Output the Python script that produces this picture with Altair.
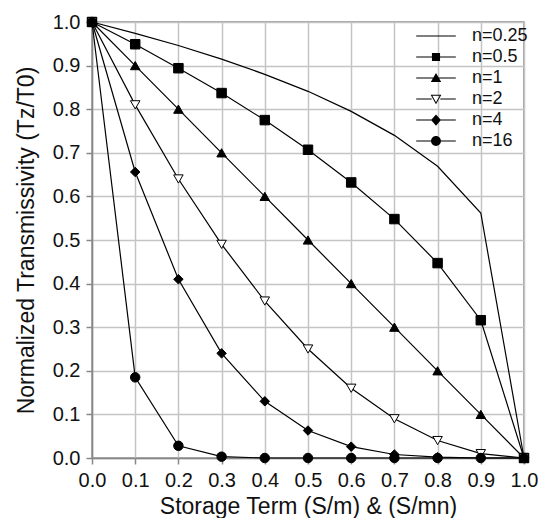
import altair as alt
import pandas as pd

x_vals = [0.0, 0.1, 0.2, 0.3, 0.4, 0.5, 0.6, 0.7, 0.8, 0.9, 1.0]
y_ticks = [0.0, 0.1, 0.2, 0.3, 0.4, 0.5, 0.6, 0.7, 0.8, 0.9, 1.0]
n_labels = ["n=0.25", "n=0.5", "n=1", "n=2", "n=4", "n=16"]

t_n025 = [1.0, 0.974, 0.946, 0.915, 0.880, 0.841, 0.795, 0.740, 0.669, 0.562, 0.0]
t_n05 = [1.0, 0.949, 0.894, 0.837, 0.775, 0.707, 0.632, 0.548, 0.447, 0.316, 0.0]
t_n1 = [1.0, 0.9, 0.8, 0.7, 0.6, 0.5, 0.4, 0.3, 0.2, 0.1, 0.0]
t_n2 = [1.0, 0.81, 0.64, 0.49, 0.36, 0.25, 0.16, 0.09, 0.04, 0.01, 0.0]
t_n4 = [1.0, 0.656, 0.410, 0.240, 0.130, 0.063, 0.026, 0.008, 0.002, 0.0, 0.0]
t_n16 = [1.0, 0.185, 0.028, 0.003, 0.0, 0.0, 0.0, 0.0, 0.0, 0.0, 0.0]

series = [t_n025, t_n05, t_n1, t_n2, t_n4, t_n16]

rows = []
for lab, ys in zip(n_labels, series):
    for xv, yv in zip(x_vals, ys):
        rows.append({"x": xv, "t": yv, "n": lab})
df = pd.DataFrame(rows)

marker_labels = n_labels[1:]
marker_shapes = ["square", "triangle-up", "triangle-down", "diamond", "circle"]
marker_fills = ["black", "black", "white", "black", "black"]

# legend symbols (all filled shapes): a thin bar for the line + the marker
BAR = "M-4.4,-0.13H4.4V0.13H-4.4Z"
legend_paths = [
    BAR,
    BAR + "M-0.9,-0.9H0.9V0.9H-0.9Z",
    BAR + "M0,-1.1L1.15,0.9H-1.15Z",
    "M-4.4,-0.13H-0.95V0.13H-4.4ZM0.95,-0.13H4.4V0.13H0.95Z"
    "M0,1.15L1.2,-0.95H-1.2ZM0,0.71L-0.82,-0.73H0.82Z",
    BAR + "M0,-1.25L1.1,0L0,1.25L-1.1,0Z",
    BAR + "M-1.1,0A1.1,1.1,0,1,1,1.1,0A1.1,1.1,0,1,1,-1.1,0Z",
]

FONT = "Liberation Sans"

xenc = alt.X(
    "x:Q",
    scale=alt.Scale(domain=[0, 1], nice=False),
    axis=alt.Axis(values=x_vals, format=".1f", title="Storage Term (S/m) & (S/mn)"),
)
yenc = alt.Y(
    "t:Q",
    scale=alt.Scale(domain=[0, 1], nice=False),
    axis=alt.Axis(values=y_ticks, format=".1f", title="Normalized Transmissivity (Tz/T0)"),
)

base = alt.Chart(df)

lines = base.mark_line(color="black", strokeWidth=1.2).encode(
    x=xenc, y=yenc, detail="n:N", order="x:Q"
)

points = base.transform_filter("datum.n != 'n=0.25'").mark_point(
    filled=True, stroke="black", strokeWidth=1, size=90, opacity=1
).encode(
    x="x:Q",
    y="t:Q",
    shape=alt.Shape("n:N", scale=alt.Scale(domain=marker_labels, range=marker_shapes), legend=None),
    fill=alt.Fill("n:N", scale=alt.Scale(domain=marker_labels, range=marker_fills), legend=None),
)

leg = alt.Legend(
    title=None,
    orient="none",
    legendX=335,
    legendY=5,
    padding=0,
    symbolSize=81,
    symbolFillColor="black",
    symbolOpacity=1,
    symbolOffset=0,
    labelOffset=27,
    labelFontSize=18,
    labelFont=FONT,
    labelColor="#111111",
    rowPadding=3,
)

legend_layer = base.transform_filter("datum.x > 2").mark_point(
    filled=True, size=81, opacity=1, color="black"
).encode(
    x="x:Q",
    y="t:Q",
    shape=alt.Shape("n:N", scale=alt.Scale(domain=n_labels, range=legend_paths), legend=leg),
)

chart = (
    alt.layer(lines, points, legend_layer)
    .resolve_scale(shape="independent", fill="independent")
    .properties(
        width=432,
        height=436,
        autosize=alt.AutoSizeParams(type="none"),
        padding={"left": 84, "top": 14, "right": 15, "bottom": 60},
        background="white",
    )
    .configure_view(stroke="#888888", strokeWidth=1.5)
    .configure_axis(
        grid=True,
        gridColor="#c4c4c4",
        gridWidth=1.5,
        domainColor="#888888",
        domainWidth=1.5,
        tickColor="#888888",
        tickSize=6,
        tickWidth=1.5,
        labelFont=FONT,
        labelFontSize=20,
        labelColor="#111111",
        labelPadding=6,
        titleFont=FONT,
        titleFontSize=23,
        titleFontWeight="normal",
        titleColor="#111111",
        labelFlush=False,
    )
    .configure_axisX(titlePadding=5)
    .configure_axisY(titlePadding=14)
)

chart.save("out.html", embed_options={"renderer": "svg", "actions": False})
